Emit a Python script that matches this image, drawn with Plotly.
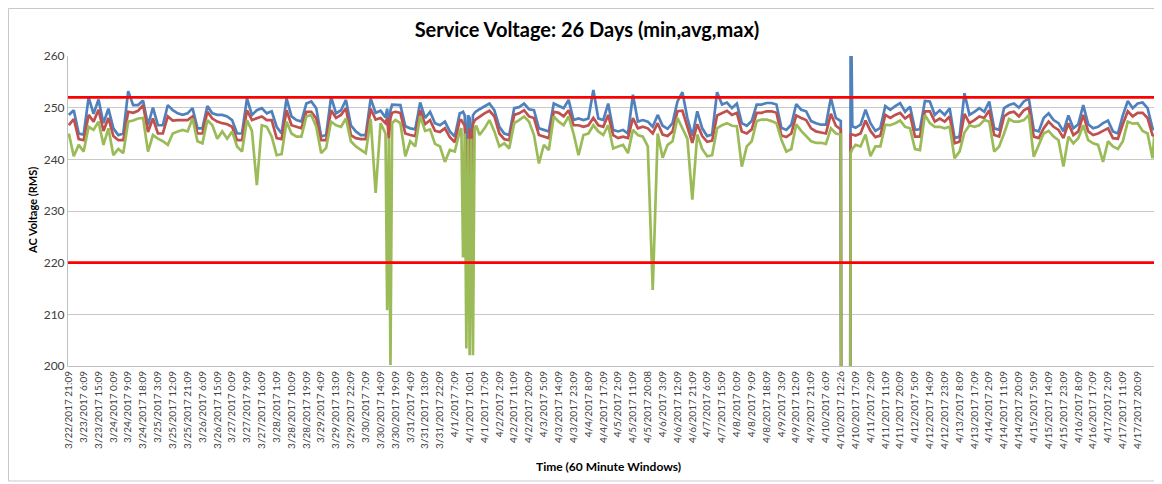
import plotly.graph_objects as go

# ---------------- data ----------------
tick_labels = [
    "3/22/2017 21:09", "3/23/2017 6:09", "3/23/2017 15:09", "3/24/2017 0:09",
    "3/24/2017 9:09", "3/24/2017 18:09", "3/25/2017 3:09", "3/25/2017 12:09",
    "3/25/2017 21:09", "3/26/2017 6:09", "3/26/2017 15:09", "3/27/2017 0:09",
    "3/27/2017 9:09", "3/27/2017 16:09", "3/28/2017 1:09", "3/28/2017 10:09",
    "3/28/2017 19:09", "3/29/2017 4:09", "3/29/2017 13:09", "3/29/2017 22:09",
    "3/30/2017 7:09", "3/30/2017 14:09", "3/30/2017 19:09", "3/31/2017 4:09",
    "3/31/2017 13:09", "3/31/2017 22:09", "4/1/2017 7:09", "4/1/2017 10:01",
    "4/1/2017 17:09", "4/2/2017 2:09", "4/2/2017 11:09", "4/2/2017 20:09",
    "4/3/2017 5:09", "4/3/2017 14:09", "4/3/2017 23:09", "4/4/2017 8:09",
    "4/4/2017 17:09", "4/5/2017 2:09", "4/5/2017 11:09", "4/5/2017 20:08",
    "4/6/2017 3:09", "4/6/2017 12:09", "4/6/2017 21:09", "4/7/2017 6:09",
    "4/7/2017 15:09", "4/8/2017 0:09", "4/8/2017 9:09", "4/8/2017 18:09",
    "4/9/2017 3:09", "4/9/2017 12:09", "4/9/2017 21:09", "4/10/2017 6:09",
    "4/10/2017 12:26", "4/10/2017 17:09", "4/11/2017 2:09", "4/11/2017 11:09",
    "4/11/2017 20:09", "4/12/2017 5:09", "4/12/2017 14:09", "4/12/2017 23:09",
    "4/13/2017 8:09", "4/13/2017 17:09", "4/14/2017 2:09", "4/14/2017 11:09",
    "4/14/2017 20:09", "4/15/2017 5:09", "4/15/2017 14:09", "4/15/2017 23:09",
    "4/16/2017 8:09", "4/16/2017 17:09", "4/17/2017 2:09", "4/17/2017 11:09",
    "4/17/2017 20:09",
]
label_every = 9          # one label every 9 hourly windows
n_windows = 659          # hourly windows on the category axis

hour_index = [
    0, 3, 6, 9, 12, 15, 18, 21, 24, 27,
    30, 33, 36, 39, 42, 45, 48, 51, 54, 57,
    60, 63, 66, 69, 72, 75, 78, 81, 84, 87,
    90, 93, 96, 99, 102, 105, 108, 111, 114, 117,
    120, 123, 126, 129, 132, 135, 138, 141, 144, 147,
    150, 153, 156, 159, 162, 165, 168, 171, 174, 177,
    180, 183, 186, 189, 192, 193, 194, 195, 196,
    198, 201, 204, 207, 210, 213, 216, 219, 222, 225,
    228, 231, 234, 237,
    238, 239, 240, 241, 242, 243, 244, 245, 246, 247,
    249, 252, 255, 258, 261, 264, 267, 270, 273, 276,
    279, 282, 285, 288, 291, 294, 297, 300, 303, 306,
    309, 312, 315, 318, 321, 324, 327, 330, 333, 336,
    339, 342, 345, 348, 351, 354, 357, 360, 363, 366,
    369, 372, 375, 378, 381, 384, 387, 390, 393, 396,
    399, 402, 405, 408, 411, 414, 417, 420, 423, 426,
    429, 432, 435, 438, 441, 444, 447, 450, 453, 456,
    459, 462, 465, 468,
    469, 471, 473, 474, 475,
    477, 480, 483, 486, 489, 492, 495, 498, 501, 504,
    507, 510, 513, 516, 519, 522, 525, 528, 531, 534,
    537, 540, 543, 546, 549, 552, 555, 558, 561, 564,
    567, 570, 573, 576, 579, 582, 585, 588, 591, 594,
    597, 600, 603, 606, 609, 612, 615, 618, 621, 624,
    627, 630, 633, 636, 639, 642, 645, 648, 651, 654,
    657, 658,
]

v_max = [
    248.6, 249.5, 245.0, 244.8, 252.0, 248.8, 251.6, 247.0, 249.8, 246.0,
    244.7, 245.0, 253.2, 250.5, 250.5, 251.4, 246.6, 250.0, 246.6, 246.6,
    250.5, 249.5, 248.9, 248.6, 248.9, 249.9, 246.0, 246.0, 250.3, 248.9,
    248.6, 248.6, 248.3, 247.6, 245.0, 245.0, 251.8, 248.6, 249.5, 249.9,
    248.9, 249.3, 246.3, 245.0, 251.8, 248.3, 247.6, 247.3, 250.8, 251.2,
    249.9, 244.4, 244.7, 252.1, 248.9, 249.5, 251.5, 246.6, 245.4, 244.7,
    244.7, 251.8, 249.0, 249.4, 248.1, 249.8, 245.5, 249.5, 250.6,
    250.6, 250.5, 246.4, 246.0, 245.8, 251.0, 248.0, 249.2, 247.0, 246.6,
    247.3, 245.4, 244.4, 248.9,
    249.0, 249.2, 248.5, 239.0, 248.5, 248.0, 238.5, 248.5, 249.0, 249.3,
    249.7, 250.2, 250.8, 249.5, 246.3, 245.0, 244.7, 249.9, 250.1, 250.8,
    249.7, 249.5, 246.0, 245.7, 245.4, 250.8, 250.3, 249.9, 251.5, 247.6,
    247.9, 247.6, 247.9, 253.4, 247.9, 247.6, 250.8, 245.7, 245.4, 245.7,
    245.0, 252.5, 247.3, 247.6, 247.3, 246.3, 248.6, 246.5, 245.9, 247.0,
    251.2, 253.0, 248.0, 244.5, 249.3, 246.0, 244.5, 244.8, 253.0, 250.6,
    251.0, 249.9, 250.8, 247.0, 246.5, 247.4, 250.6, 250.6, 250.9, 250.9,
    250.6, 246.1, 245.7, 246.7, 250.7, 249.6, 249.3, 247.4, 247.0, 246.7,
    246.7, 251.9, 248.0, 247.4,
    0.0, 0.0, 0.0, 275.0, 246.4,
    246.1, 246.7, 249.6, 247.0, 245.5, 246.1, 250.3, 249.6, 250.3, 250.9,
    249.2, 250.2, 245.7, 245.8, 251.3, 251.2, 248.6, 249.5, 248.6, 249.9,
    244.1, 244.4, 252.8, 248.6, 249.2, 249.9, 249.2, 251.2, 246.0, 245.7,
    249.9, 250.5, 250.8, 250.0, 251.2, 251.8, 245.7, 245.4, 248.0, 248.9,
    247.6, 247.0, 245.4, 248.5, 246.0, 246.8, 250.5, 246.8, 246.0, 246.3,
    247.0, 247.5, 245.4, 245.0, 248.5, 251.3, 249.9, 250.8, 251.0, 249.9,
    246.0, 245.7,
]

v_avg = [
    246.6, 247.8, 243.9, 243.7, 248.6, 247.3, 249.6, 245.5, 248.0, 244.5,
    243.7, 243.7, 249.2, 249.0, 249.4, 250.5, 245.3, 247.9, 245.0, 245.0,
    248.3, 247.5, 247.6, 247.6, 247.6, 248.3, 245.0, 245.0, 249.2, 247.9,
    247.3, 247.0, 246.8, 246.3, 243.7, 243.7, 249.5, 247.6, 247.9, 248.3,
    247.6, 247.6, 244.1, 243.9, 249.5, 246.6, 246.3, 246.0, 249.2, 249.2,
    247.9, 243.7, 243.7, 249.5, 248.0, 248.6, 249.9, 244.7, 244.1, 243.9,
    243.9, 249.8, 247.7, 248.0, 247.0, 248.0, 244.0, 248.0, 249.0,
    249.2, 249.0, 245.0, 244.7, 244.5, 249.5, 246.8, 247.6, 245.5, 245.3,
    246.0, 244.3, 243.3, 247.6,
    247.6, 247.0, 246.5, 240.5, 229.5, 246.0, 232.0, 246.8, 247.5, 247.8,
    248.3, 248.9, 249.4, 248.3, 245.0, 243.9, 243.7, 248.6, 248.9, 249.5,
    248.3, 248.0, 244.7, 244.4, 244.1, 249.2, 249.0, 248.3, 249.5, 246.6,
    246.6, 246.3, 246.6, 248.0, 246.6, 246.3, 248.6, 244.7, 244.1, 244.4,
    244.1, 248.0, 246.0, 246.3, 246.0, 245.0, 247.0, 244.8, 244.5, 245.4,
    249.3, 249.4, 246.3, 243.2, 246.8, 244.5, 243.4, 243.6, 248.5, 249.0,
    249.4, 248.6, 249.0, 245.4, 245.0, 245.8, 249.0, 249.0, 249.3, 249.3,
    249.0, 244.6, 244.3, 245.0, 248.5, 248.0, 247.6, 246.0, 245.4, 245.2,
    245.0, 248.8, 246.5, 245.8,
    0.0, 0.0, 0.0, 244.8, 244.8,
    244.6, 245.0, 247.5, 245.5, 244.3, 244.6, 248.6, 248.0, 248.6, 249.0,
    247.9, 248.6, 244.4, 244.4, 249.3, 249.3, 247.3, 247.9, 247.3, 248.3,
    243.1, 243.4, 248.8, 247.0, 247.6, 248.3, 248.0, 249.5, 244.7, 244.4,
    248.3, 249.0, 249.2, 248.3, 249.5, 250.0, 244.4, 244.1, 246.0, 247.3,
    246.3, 245.7, 244.1, 247.0, 244.7, 245.4, 248.6, 245.4, 244.7, 245.0,
    245.5, 246.0, 244.1, 244.0, 246.8, 249.3, 248.3, 249.0, 249.0, 248.0,
    244.7, 244.5,
]

v_min = [
    245.0, 240.6, 242.8, 241.5, 246.3, 245.7, 247.3, 242.8, 246.0, 240.8,
    242.0, 241.2, 247.3, 247.5, 247.9, 248.0, 241.5, 244.7, 244.0, 243.5,
    242.8, 245.0, 245.4, 245.7, 245.4, 247.9, 243.5, 243.1, 247.6, 246.6,
    244.0, 245.4, 244.0, 245.4, 242.5, 241.5, 247.6, 245.5, 235.0, 246.6,
    246.3, 244.4, 240.8, 241.0, 247.3, 245.0, 244.4, 244.4, 248.3, 248.6,
    246.3, 241.2, 242.2, 247.3, 246.6, 246.3, 247.9, 243.5, 242.5, 241.8,
    241.2, 247.8, 233.5, 247.0, 245.0, 210.8, 244.0, 200.2, 247.0,
    247.6, 247.0, 240.6, 243.5, 242.5, 248.4, 245.5, 245.8, 243.0, 242.5,
    239.5, 241.8, 241.5, 245.5,
    246.0, 221.0, 245.0, 203.4, 244.0, 202.1, 244.0, 202.1, 246.0, 246.5,
    244.7, 246.0, 247.6, 245.4, 242.5, 243.1, 242.1, 247.0, 247.6, 248.3,
    247.3, 244.7, 239.2, 242.8, 241.8, 248.3, 247.3, 246.6, 248.3, 245.0,
    240.8, 244.7, 245.0, 246.6, 245.4, 244.7, 246.6, 242.1, 242.5, 242.8,
    241.2, 245.7, 244.7, 244.4, 242.5, 214.7, 245.0, 240.3, 242.8, 243.5,
    248.0, 246.0, 244.0, 232.2, 244.8, 242.0, 240.6, 240.8, 246.0, 246.6,
    247.0, 246.5, 246.4, 238.6, 242.5, 243.5, 247.4, 247.7, 247.7, 247.4,
    247.0, 243.8, 241.5, 242.0, 246.8, 245.5, 244.5, 243.5, 243.2, 243.2,
    243.0, 246.0, 245.0, 244.8,
    0.0, 0.0, 0.0, 241.2, 242.0,
    242.8, 242.5, 244.8, 240.6, 242.5, 242.5, 246.7, 246.6, 247.0, 247.5,
    246.3, 246.0, 242.0, 241.8, 248.6, 247.0, 246.3, 246.3, 246.0, 246.3,
    240.2, 241.5, 245.2, 246.6, 246.3, 246.6, 247.6, 247.3, 241.5, 242.5,
    245.0, 247.8, 247.3, 247.3, 247.6, 248.6, 240.5, 242.8, 245.0, 245.5,
    244.4, 243.7, 238.6, 244.4, 243.1, 244.1, 246.6, 243.7, 243.1, 242.8,
    239.5, 243.5, 242.5, 242.0, 243.5, 247.3, 246.9, 247.0, 245.5, 245.0,
    240.2, 244.4,
]

limit_high = 252
limit_low = 220

# ---------------- figure ----------------
FONT = "Lato, 'Open Sans', sans-serif"
# the page body adds an 8 px offset, so the figure is 8 px smaller
OFF = 8
W, H = 1162 - OFF, 484 - OFF
L, T = 68 - OFF, 56 - OFF
PLOT_RIGHT, PLOT_BOTTOM = 1155 - OFF, 366 - OFF
R, B = W - PLOT_RIGHT, H - PLOT_BOTTOM
pw, ph = W - L - R, H - T - B


def px(xpix):
    return (xpix - OFF - L) / pw


def py(ypix):
    return (PLOT_BOTTOM - (ypix - OFF)) / ph


fig = go.Figure()
fig.add_trace(go.Scatter(x=hour_index, y=v_max, mode="lines", name="max",
                         line=dict(color="#4F81BD", width=2.7)))
fig.add_trace(go.Scatter(x=hour_index, y=v_avg, mode="lines", name="avg",
                         line=dict(color="#C0504D", width=2.7)))
fig.add_trace(go.Scatter(x=hour_index, y=v_min, mode="lines", name="min",
                         line=dict(color="#9BBB59", width=2.7)))

for lim in (limit_high, limit_low):
    fig.add_hline(y=lim, line=dict(color="#FF0000", width=2.6), layer="above")

tick_vals = [i * label_every for i in range(len(tick_labels))]

# outer chart border
fig.add_shape(type="rect", xref="paper", yref="paper",
              x0=px(8.5), x1=px(1157), y0=py(481), y1=py(8.5),
              line=dict(color="#C8C8C8", width=1), layer="below")

fig.update_layout(
    width=W, height=H,
    margin=dict(l=L, r=R, t=T, b=B),
    paper_bgcolor="white", plot_bgcolor="white",
    showlegend=False,
    font=dict(family=FONT, color="#404040"),
    title=dict(text="<b>Service Voltage: 26 Days (min,avg,max)</b>",
               x=(587 - OFF) / W, xanchor="center", xref="container",
               y=1 - (30 - OFF) / H, yanchor="middle", yref="container",
               font=dict(family=FONT, size=20, color="#000000")),
    xaxis=dict(range=[-0.5, n_windows - 0.5], tickmode="array",
               tickvals=tick_vals, ticktext=tick_labels, tickangle=-90,
               tickfont=dict(size=10, color="#404040"),
               showgrid=False, zeroline=False, showline=True,
               linecolor="#BFBFBF", linewidth=1, ticks=""),
    yaxis=dict(range=[200, 260], tickmode="array",
               tickvals=[200, 210, 220, 230, 240, 250, 260],
               tickfont=dict(size=12, color="#404040"),
               showgrid=True, gridcolor="#C8C8C8", gridwidth=1,
               zeroline=False, showline=True, linecolor="#BFBFBF",
               linewidth=1, ticks=""),
    annotations=[
        dict(text="<b>AC Voltage (RMS)</b>", xref="paper", yref="paper",
             x=px(32), y=py(211), textangle=-90, showarrow=False,
             font=dict(family=FONT, size=11, color="#000000"),
             xanchor="center", yanchor="middle"),
        dict(text="<b>Time (60 Minute Windows)</b>", xref="paper", yref="paper",
             x=px(608), y=py(466), showarrow=False,
             font=dict(family=FONT, size=12, color="#000000"),
             xanchor="center", yanchor="middle"),
    ],
)

fig.write_html("out.html")
